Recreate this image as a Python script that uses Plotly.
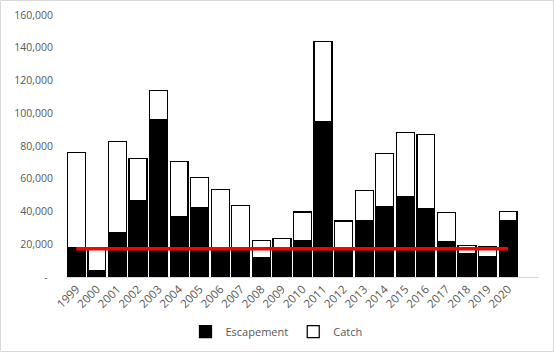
import plotly.graph_objects as go

years = [str(y) for y in range(1999, 2021)]
escapement = [17700, 3700, 26900, 46400, 95900, 36600, 42100, 17200, 17200, 11800, 17200,
              22200, 94700, 17200, 34200, 42700, 48900, 41500, 21800, 14000, 12200, 34200]
total = [76200, 17400, 82900, 72500, 114000, 70600, 60900, 53500, 43800, 22400, 23600,
         39700, 143900, 34200, 52900, 75500, 88400, 87100, 39500, 19300, 18700, 40100]
catch = [t - e for t, e in zip(total, escapement)]
goal = [17300] * len(years)
y_ticks = [0, 20000, 40000, 60000, 80000, 100000, 120000, 140000, 160000]
y_tick_text = ["-\u00a0\u00a0", "20,000", "40,000", "60,000", "80,000", "100,000", "120,000", "140,000", "160,000"]

font_family = "Open Sans, DejaVu Sans, sans-serif"
tick_color = "#595959"

fig = go.Figure()
fig.add_trace(go.Bar(x=years, y=escapement, name="Escapement",
                     marker=dict(color="#000000", line=dict(color="#000000", width=1.25))))
fig.add_trace(go.Bar(x=years, y=catch, name="Catch",
                     marker=dict(color="#ffffff", line=dict(color="#000000", width=1.25))))
fig.add_trace(go.Scatter(x=years, y=goal, mode="lines", showlegend=False,
                         line=dict(color="#ff0000", width=3.5)))

fig.update_layout(
    width=554, height=352,
    margin=dict(l=66, r=15, t=15, b=75),
    barmode="stack", bargap=0.13,
    paper_bgcolor="#ffffff", plot_bgcolor="#ffffff",
    font=dict(family=font_family, size=10.5, color=tick_color),
    showlegend=True,
    legend=dict(orientation="h", x=0.445, xanchor="center",
                yref="container", y=0.058, yanchor="middle",
                traceorder="normal",
                font=dict(size=11, color=tick_color), itemwidth=30,
                bgcolor="rgba(0,0,0,0)"),
    xaxis=dict(type="category", tickangle=-45, showline=True, linecolor="#d9d9d9",
               range=[-0.5, 22.5], automargin=False,
               linewidth=1, ticks="", showgrid=False, tickfont=dict(size=11.5, color=tick_color)),
    yaxis=dict(range=[0, 160000], tickvals=y_ticks, ticktext=y_tick_text, showgrid=False,
               zeroline=False, showline=False, ticks="", ticklabelstandoff=12, automargin=False,
               tickfont=dict(size=10.5, color=tick_color)),
    shapes=[dict(type="rect", xref="paper", yref="paper", x0=-65.5/473, x1=1+14.5/473,
                 y0=-74.5/262, y1=1+14.5/262, line=dict(color="#d9d9d9", width=1))],
)

fig.write_html("out.html")
